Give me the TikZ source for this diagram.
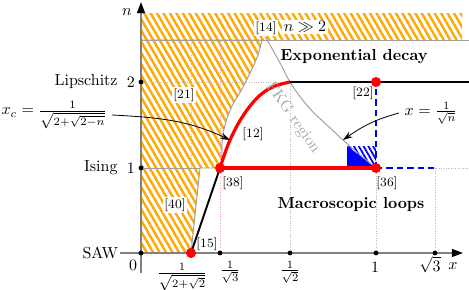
\documentclass[tikz,border=0pt]{standalone}
\usepackage{amsmath}
\usepackage{amssymb}
\usetikzlibrary{positioning}
\usetikzlibrary{calc}
\usetikzlibrary{arrows.meta}
\usetikzlibrary{patterns.meta}
\definecolor{hatch}{RGB}{255,168,0}
\definecolor{pinkdot}{RGB}{240,160,160}
\definecolor{bluedot}{RGB}{180,180,230}

\begin{document}
\begin{tikzpicture}[
    x=0.022cm, y=0.022cm,
    axis/.style={draw=gray, line width=0.9pt, -{Triangle[length=7pt, width=5pt, color=black]}},
    guide/.style={densely dotted, gray!55, line width=0.5pt},
    border/.style={draw=gray!75, line width=0.6pt},
    hatched/.style={pattern={Lines[angle=-60, distance=3.5pt, line width=1.5pt]}, pattern color=hatch},
    bluehatch/.style={pattern={Lines[angle=-60, distance=2.6pt, line width=1.1pt]}, pattern color=blue},
    reddot/.style={circle, fill=red, inner sep=0pt, minimum size=6.3pt},
    dotb/.style={circle, fill=black, inner sep=0pt, minimum size=3pt},
    ref/.style={font=\footnotesize, inner sep=1pt},
    regime/.style={font=\bfseries},
    redline/.style={red, line width=2pt},
    blackline/.style={black, line width=1.2pt},
    bluedash/.style={blue, line width=1.1pt, dash pattern=on 4pt off 2.5pt},
    pointer/.style={-{Stealth[length=6pt, width=4pt]}, line width=0.5pt}
]
    \useasboundingbox (-141,-36) rectangle (328,253);

    \coordinate (p15) at (50,0);
    \coordinate (p38) at (79,85);
    \coordinate (p36) at (235,85);
    \coordinate (p22) at (235,171);
    \coordinate (kink) at (149,171);
    \coordinate (gap) at (59,85);
    \coordinate (top) at (0,213);
    \coordinate (topend) at (328,213);
    \coordinate (sq3) at (294,85);

    \fill[hatched] (0,213) rectangle (321,239);
    \filldraw[hatched, border] (0,0) -- (p15) -- (gap) -- plot[smooth, tension=0.6] coordinates
        {(81,85) (81,108) (84,128) (91,147) (101,164) (111,184) (117,198) (121,213)} -- (top) -- cycle;

    \draw[guide, pinkdot] (79,0) -- (79,213);
    \draw[guide, bluedot] (50,85) -- (50,213);
    \draw[guide] (0,171) -- (kink) -- (149,0);
    \draw[guide] (235,0) -- (p36);
    \draw[guide] (294,0) -- (sq3) -- (328,85);

    \draw[border] (0,85) -- (gap);
    \draw[border] (top) -- (topend);

    \fill[bluehatch] (206,107) -- (235,107) -- (p36) -- cycle;
    \fill[blue] (206,107) -- (206,85) -- (p36) -- cycle;
    \draw[border] plot[smooth] coordinates
        {(124,216) (129,208) (139,190) (149,171) (160,155) (172,141) (187,127) (202,113) (218,99) (235,85)};

    \draw[axis] (-21,0) -- (322,0);
    \draw[axis] (0,-20) -- (0,251);

    \draw[bluedash] (p36) -- (p22);
    \draw[bluedash] (p36) -- (sq3);
    \draw[blackline] (p15) -- (p38);
    \draw[blackline] (kink) -- (328,171);
    \draw[redline] (p38) -- (p36);
    \draw[redline] plot[smooth] coordinates
        {(p38) (84,100) (89,113) (97,129) (106,143) (116,155) (126,163) (137,168) (kink)};

    \node[dotb] (t0) at (0,0) {};
    \node[dotb] (t1) at (0,85) {};
    \node[dotb] (t2) at (0,171) {};
    \node[dotb] (tx3) at (79,0) {};
    \node[dotb] (tx2) at (149,0) {};
    \node[dotb] (tx1) at (235,0) {};
    \node[dotb] (txs) at (294,0) {};

    \node[reddot] (d15) at (p15) {};
    \node[reddot] (d38) at (p38) {};
    \node[reddot] (d36) at (p36) {};
    \node[reddot] (d22) at (p22) {};

    \node[left=1pt of t1, inner sep=1pt] (n1) {$1$};
    \node[left=3.4pt of n1, inner sep=1pt] {Ising};
    \node[left=1pt of t2, inner sep=1pt] (n2) {$2$};
    \node[left=3.4pt of n2, inner sep=1pt] {Lipschitz};
    \node[anchor=east, inner sep=1pt] (saw) at (-21,0) {SAW};
    \node (l0) at (-8,-12) {$0$};
    \node (lxc) at (41,-24) {$\frac{1}{\sqrt{2+\sqrt{2}}}$};
    \node (lx3) at (89,-19) {$\frac{1}{\sqrt{3}}$};
    \node (lx2) at (149,-19) {$\frac{1}{\sqrt{2}}$};
    \node (lx1) at (234,-14) {$1$};
    \node (lxs) at (289,-12) {$\sqrt{3}$};
    \node (lx) at (312,-13) {$x$};
    \node (ln) at (-14,241) {$n$};

    \node[regime] (expo) at (213,196) {Exponential decay};
    \node[regime] (macro) at (210,48) {Macroscopic loops};
    \node[gray!70, rotate=-55] (fkg) at (152,135) {FKG region};

    \node[ref, fill=white] (r21) at (43,158) {[21]};
    \node[ref] (r12) at (112,119) {[12]};
    \node[ref] (r22) at (222,160) {[22]};
    \node[ref] (r38) at (92,70) {[38]};
    \node[ref] (r36) at (246,70) {[36]};
    \node[ref, fill=white] (r40) at (34,48) {[40]};
    \node[ref] (r15) at (66,9) {[15]};
    \node[ref, fill=white] (r14) at (125,225) {[14]};
    \node[fill=white, inner sep=1pt] (big) at (164,226) {$n\gg 2$};

    \coordinate (onred) at (89,113);
    \coordinate (onfkg) at (202,113);
    \node (xc) at (-87,138) {$x_c=\frac{1}{\sqrt{2+\sqrt{2-n}}}$};
    \node (xn) at (290,140) {$x=\frac{1}{\sqrt{n}}$};
    \draw[pointer] (xc.east) to[out=-3, in=155] (onred);
    \draw[pointer] (xn.west) to[out=195, in=35] (onfkg);
\end{tikzpicture}
\end{document}
